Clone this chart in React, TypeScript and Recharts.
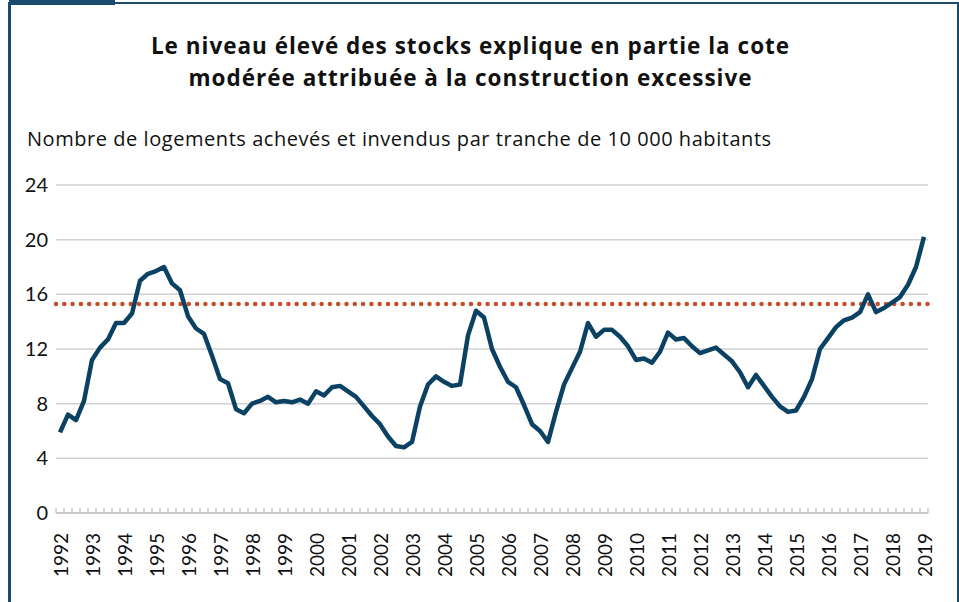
import { LineChart, Line, XAxis, YAxis, CartesianGrid, ReferenceLine } from "recharts"

const years = ["1992", "1993", "1994", "1995", "1996", "1997", "1998", "1999", "2000", "2001", "2002", "2003", "2004", "2005",
    "2006", "2007", "2008", "2009", "2010", "2011", "2012", "2013", "2014", "2015", "2016", "2017", "2018", "2019"]

// logements achevés invendus / 10 000 hab., trimestriel 1992T1 -> 2019T1
const stock = [
    5.9, 7.2, 6.8, 8.2,
    11.2, 12.1, 12.7, 13.9,
    13.9, 14.6, 17.0, 17.5,
    17.7, 18.0, 16.8, 16.3,
    14.4, 13.5, 13.1, 11.5,
    9.8, 9.5, 7.6, 7.3,
    8.0, 8.2, 8.5, 8.1,
    8.2, 8.1, 8.3, 8.0,
    8.9, 8.6, 9.2, 9.3,
    8.9, 8.5, 7.8, 7.1,
    6.5, 5.6, 4.9, 4.8,
    5.2, 7.8, 9.4, 10.0,
    9.6, 9.3, 9.4, 13.0,
    14.8, 14.3, 12.0, 10.7,
    9.6, 9.2, 7.9, 6.5,
    6.0, 5.2, 7.4, 9.4,
    10.6, 11.8, 13.9, 12.9,
    13.4, 13.4, 12.9, 12.2,
    11.2, 11.3, 11.0, 11.8,
    13.2, 12.7, 12.8, 12.2,
    11.7, 11.9, 12.1, 11.6,
    11.1, 10.3, 9.2, 10.1,
    9.3, 8.5, 7.8, 7.4,
    7.5, 8.5, 9.8, 12.0,
    12.8, 13.6, 14.1, 14.3,
    14.7, 16.0, 14.7, 15.0,
    15.4, 15.8, 16.7, 18.0,
    20.2,
]

const average = 15.3
const yTicks = [0, 4, 8, 12, 16, 20, 24]

const data = stock.map((v, i) => ({ i, v }))
const labelTicks = years.map((_, k) => k * 4)
const minorTicks = [...stock.map((_, i) => i - 0.5), stock.length - 0.5]
const xTicks = [...minorTicks, ...labelTicks]

const FONT = "Lato, 'Open Sans', sans-serif"
const TITLE_FONT = "'Open Sans', Lato, sans-serif"
const NAVY = "#0b4264"

function XTick(props: any) {
    const { x, y, payload } = props
    const val = payload.value as number
    if (!Number.isInteger(val)) {
        return <line x1={x} x2={x} y1={y} y2={y - 5} stroke="#c8c8c8" strokeWidth={1.5} />
    }
    return (
        <text x={x} y={y + 20} transform={`rotate(-90 ${x} ${y + 20})`} textAnchor="end" dominantBaseline="central"
            fontSize={19} fontFamily={FONT} fill="#111">
            {years[val / 4]}
        </text>
    )
}

export default function App() {
    return <div style={{ position: "absolute", left: 0, top: 0, width: 959, height: 602, background: "#fff", overflow: "hidden" }}>
        <div style={{ position: "absolute", left: 8, top: 2, width: 946, height: 620, borderLeft: "3px solid #1b4c70", borderRight: "3px solid #1b4c70", borderTop: "2px solid #1b4c70" }} />
        <div style={{ position: "absolute", left: 9, top: 0, width: 106, height: 5, background: "#1b4c70" }} />
        <div style={{ position: "absolute", left: 0, top: 30, width: 941, textAlign: "center", fontFamily: TITLE_FONT, fontWeight: 700, fontSize: 22.5, letterSpacing: 1, lineHeight: "32px", color: "#111" }}>
            Le niveau élevé des stocks explique en partie la cote<br />modérée attribuée à la construction excessive
        </div>
        <div style={{ position: "absolute", left: 27, top: 125, fontFamily: TITLE_FONT, fontSize: 20, letterSpacing: 0.55, color: "#111", whiteSpace: "nowrap" }}>
            Nombre de logements achevés et invendus par tranche de 10 000 habitants
        </div>
        <div style={{ position: "absolute", left: 0, top: 0 }}>
            <LineChart width={959} height={602} data={data} margin={{ top: 185, right: 31, bottom: 0, left: 0 }}>
                <CartesianGrid vertical={false} stroke="#d2d2d2" strokeWidth={1.5} />
                <XAxis dataKey="i" type="number" domain={[-0.5, stock.length - 0.5]} ticks={xTicks} interval={0}
                    tick={<XTick />} tickLine={false} tickSize={0} tickMargin={0} height={89}
                    axisLine={{ stroke: "#c8c8c8", strokeWidth: 2 }} allowDecimals />
                <YAxis domain={[0, 24]} ticks={yTicks} width={56} axisLine={false} tickLine={false}
                    tick={{ fontSize: 20, fontFamily: FONT, fill: "#111" }} />
                <ReferenceLine y={average} stroke="#c4502a" strokeWidth={4.5} strokeDasharray="0 8.3" strokeLinecap="round" />
                <Line type="linear" dataKey="v" stroke={NAVY} strokeWidth={4.5} dot={false} strokeLinejoin="round" isAnimationActive={false} />
            </LineChart>
        </div>
    </div>
}
